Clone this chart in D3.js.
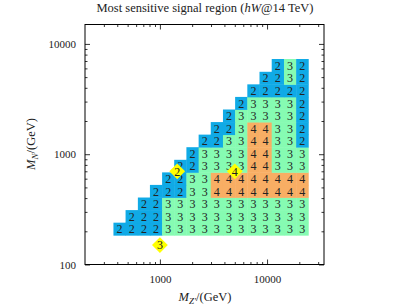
<!DOCTYPE html>
<html>
<head>
<meta charset="utf-8">
<script src="https://cdn.jsdelivr.net/npm/d3@7"></script>
<style>
  body { margin: 0; background: #fff; }
  text { font-family: "Liberation Serif", "DejaVu Serif", serif; fill: #222; }
</style>
</head>
<body>
<svg id="chart" width="399" height="305"></svg>
<script>
// grid masses (GeV): M_Z' columns and M_N rows, bottom row first
const mzValues = [420, 545, 710, 920, 1195, 1550, 2015, 2620, 3400, 4420, 5740, 7460, 9690, 12600, 16400, 21300];
const mnValues = [210, 273, 355, 462, 600, 780, 1015, 1320, 1715, 2230, 2900, 3770, 4900, 6400];

// most sensitive signal region per cell (null = no point), one list per M_N row
const _ = null;
const regionRows = [
  [2,2,2,2,3,3,3,3,3,3,3,3,3,3,3,3],
  [_,2,2,2,3,3,3,3,3,3,3,3,3,3,3,3],
  [_,_,2,2,3,3,3,3,3,3,3,3,3,3,3,3],
  [_,_,_,2,2,2,3,3,4,4,4,4,4,4,4,4],
  [_,_,_,_,2,2,3,3,4,4,4,4,4,4,4,4],
  [_,_,_,_,_,2,2,3,3,3,3,4,4,3,3,3],
  [_,_,_,_,_,_,2,3,3,3,3,4,4,3,3,3],
  [_,_,_,_,_,_,_,2,2,3,3,4,4,3,3,2],
  [_,_,_,_,_,_,_,_,2,2,3,4,4,3,3,2],
  [_,_,_,_,_,_,_,_,_,2,3,3,3,3,3,2],
  [_,_,_,_,_,_,_,_,_,_,2,3,3,3,3,2],
  [_,_,_,_,_,_,_,_,_,_,_,2,2,2,2,2],
  [_,_,_,_,_,_,_,_,_,_,_,_,2,2,3,2],
  [_,_,_,_,_,_,_,_,_,_,_,_,_,2,3,2]
];

// benchmark points (yellow diamonds)
const benchMz = [1000, 1450, 5000];
const benchMn = [150, 700, 700];
const benchRegion = [3, 2, 4];

const xMajor = [1000, 10000];
const xMinor = [300, 400, 500, 600, 700, 800, 900, 2000, 3000, 4000, 5000, 6000, 7000, 8000, 9000, 20000, 30000];
const yMajor = [100, 1000, 10000];
const yMinor = [200, 300, 400, 500, 600, 700, 800, 900, 2000, 3000, 4000, 5000, 6000, 7000, 8000, 9000];

const regionColor = { 2: "#10aae6", 3: "#86fbb2", 4: "#f8ae64" };

const svg = d3.select("#chart");
const plotLeft = 85, plotRight = 324, plotTop = 24.5, plotBottom = 264.5;

const x = d3.scaleLog().domain([200, 34000]).range([plotLeft, plotRight]);
const y = d3.scaleLog().domain([100, 15000]).range([plotBottom, plotTop]);

// cell size from grid spacing in pixels
const cw = (x(mzValues[mzValues.length - 1]) - x(mzValues[0])) / (mzValues.length - 1);
const ch = (y(mnValues[0]) - y(mnValues[mnValues.length - 1])) / (mnValues.length - 1);

const cells = [];
regionRows.forEach((row, r) => {
  row.forEach((v, c) => {
    if (v !== null) cells.push({ mz: mzValues[c], mn: mnValues[r], v: v });
  });
});

const gCells = svg.append("g");
gCells.selectAll("rect")
  .data(cells)
  .enter().append("rect")
  .attr("x", d => x(d.mz) - cw / 2)
  .attr("y", d => y(d.mn) - ch / 2)
  .attr("width", cw + 0.4)
  .attr("height", ch + 0.4)
  .attr("fill", d => regionColor[d.v]);

gCells.selectAll("text")
  .data(cells)
  .enter().append("text")
  .attr("x", d => x(d.mz))
  .attr("y", d => y(d.mn))
  .attr("dy", "0.36em")
  .attr("text-anchor", "middle")
  .attr("font-size", "12px")
  .text(d => d.v);

// benchmark diamonds
const bench = benchMz.map((m, i) => ({ mz: m, mn: benchMn[i], v: benchRegion[i] }));
const gBench = svg.append("g");
gBench.selectAll("path")
  .data(bench)
  .enter().append("path")
  .attr("d", d3.symbol().type(d3.symbolSquare).size(125))
  .attr("transform", d => "translate(" + x(d.mz) + "," + y(d.mn) + ") rotate(45)")
  .attr("fill", "#ffff00");
gBench.selectAll("text")
  .data(bench)
  .enter().append("text")
  .attr("x", d => x(d.mz))
  .attr("y", d => y(d.mn))
  .attr("dy", "0.36em")
  .attr("text-anchor", "middle")
  .attr("font-size", "12px")
  .text(d => d.v);

// axes: inward ticks on all four sides
function styleAxis(g) {
  g.select(".domain").remove();
  g.selectAll(".tick line").attr("stroke", "#000").attr("stroke-width", 0.8);
  g.selectAll(".tick text").attr("font-size", "11px").attr("fill", "#222")
    .style("font-family", "'Liberation Serif', serif");
}
const fmt = d => d3.format("d")(d);

svg.append("g").attr("transform", "translate(0," + plotBottom + ")")
  .call(d3.axisBottom(x).tickValues(xMajor).tickSize(-5).tickPadding(11).tickFormat(fmt)).call(styleAxis);
svg.append("g").attr("transform", "translate(0," + plotBottom + ")")
  .call(d3.axisBottom(x).tickValues(xMinor).tickSize(-2.5).tickFormat("")).call(styleAxis);
svg.append("g").attr("transform", "translate(0," + plotTop + ")")
  .call(d3.axisTop(x).tickValues(xMajor).tickSize(-5).tickFormat("")).call(styleAxis);
svg.append("g").attr("transform", "translate(0," + plotTop + ")")
  .call(d3.axisTop(x).tickValues(xMinor).tickSize(-2.5).tickFormat("")).call(styleAxis);

svg.append("g").attr("transform", "translate(" + plotLeft + ",0)")
  .call(d3.axisLeft(y).tickValues(yMajor).tickSize(-5).tickPadding(9).tickFormat(fmt)).call(styleAxis);
svg.append("g").attr("transform", "translate(" + plotLeft + ",0)")
  .call(d3.axisLeft(y).tickValues(yMinor).tickSize(-2.5).tickFormat("")).call(styleAxis);
svg.append("g").attr("transform", "translate(" + plotRight + ",0)")
  .call(d3.axisRight(y).tickValues(yMajor).tickSize(-5).tickFormat("")).call(styleAxis);
svg.append("g").attr("transform", "translate(" + plotRight + ",0)")
  .call(d3.axisRight(y).tickValues(yMinor).tickSize(-2.5).tickFormat("")).call(styleAxis);

// frame
svg.append("rect")
  .attr("x", plotLeft).attr("y", plotTop)
  .attr("width", plotRight - plotLeft).attr("height", plotBottom - plotTop)
  .attr("fill", "none").attr("stroke", "#000").attr("stroke-width", 1);

// title
const title = svg.append("text")
  .attr("x", 205).attr("y", 12)
  .attr("text-anchor", "middle")
  .attr("font-size", "12.5px");
title.append("tspan").text("Most sensitive signal region (");
title.append("tspan").attr("font-style", "italic").text("hW");
title.append("tspan").text("@14 TeV)");

// x label
const xl = svg.append("text")
  .attr("x", 205).attr("y", 301)
  .attr("text-anchor", "middle")
  .attr("font-size", "12.5px");
xl.append("tspan").attr("font-style", "italic").text("M");
xl.append("tspan").attr("font-style", "italic").attr("font-size", "9px").attr("dy", "2.5").text("Z′");
xl.append("tspan").attr("dy", "-2.5").text("/(GeV)");

// y label
const yl = svg.append("text")
  .attr("transform", "translate(35,144) rotate(-90)")
  .attr("text-anchor", "middle")
  .attr("font-size", "12.5px");
yl.append("tspan").attr("font-style", "italic").text("M");
yl.append("tspan").attr("font-style", "italic").attr("font-size", "9px").attr("dy", "2.5").text("N");
yl.append("tspan").attr("dy", "-2.5").text("/(GeV)");
</script>
</body>
</html>
